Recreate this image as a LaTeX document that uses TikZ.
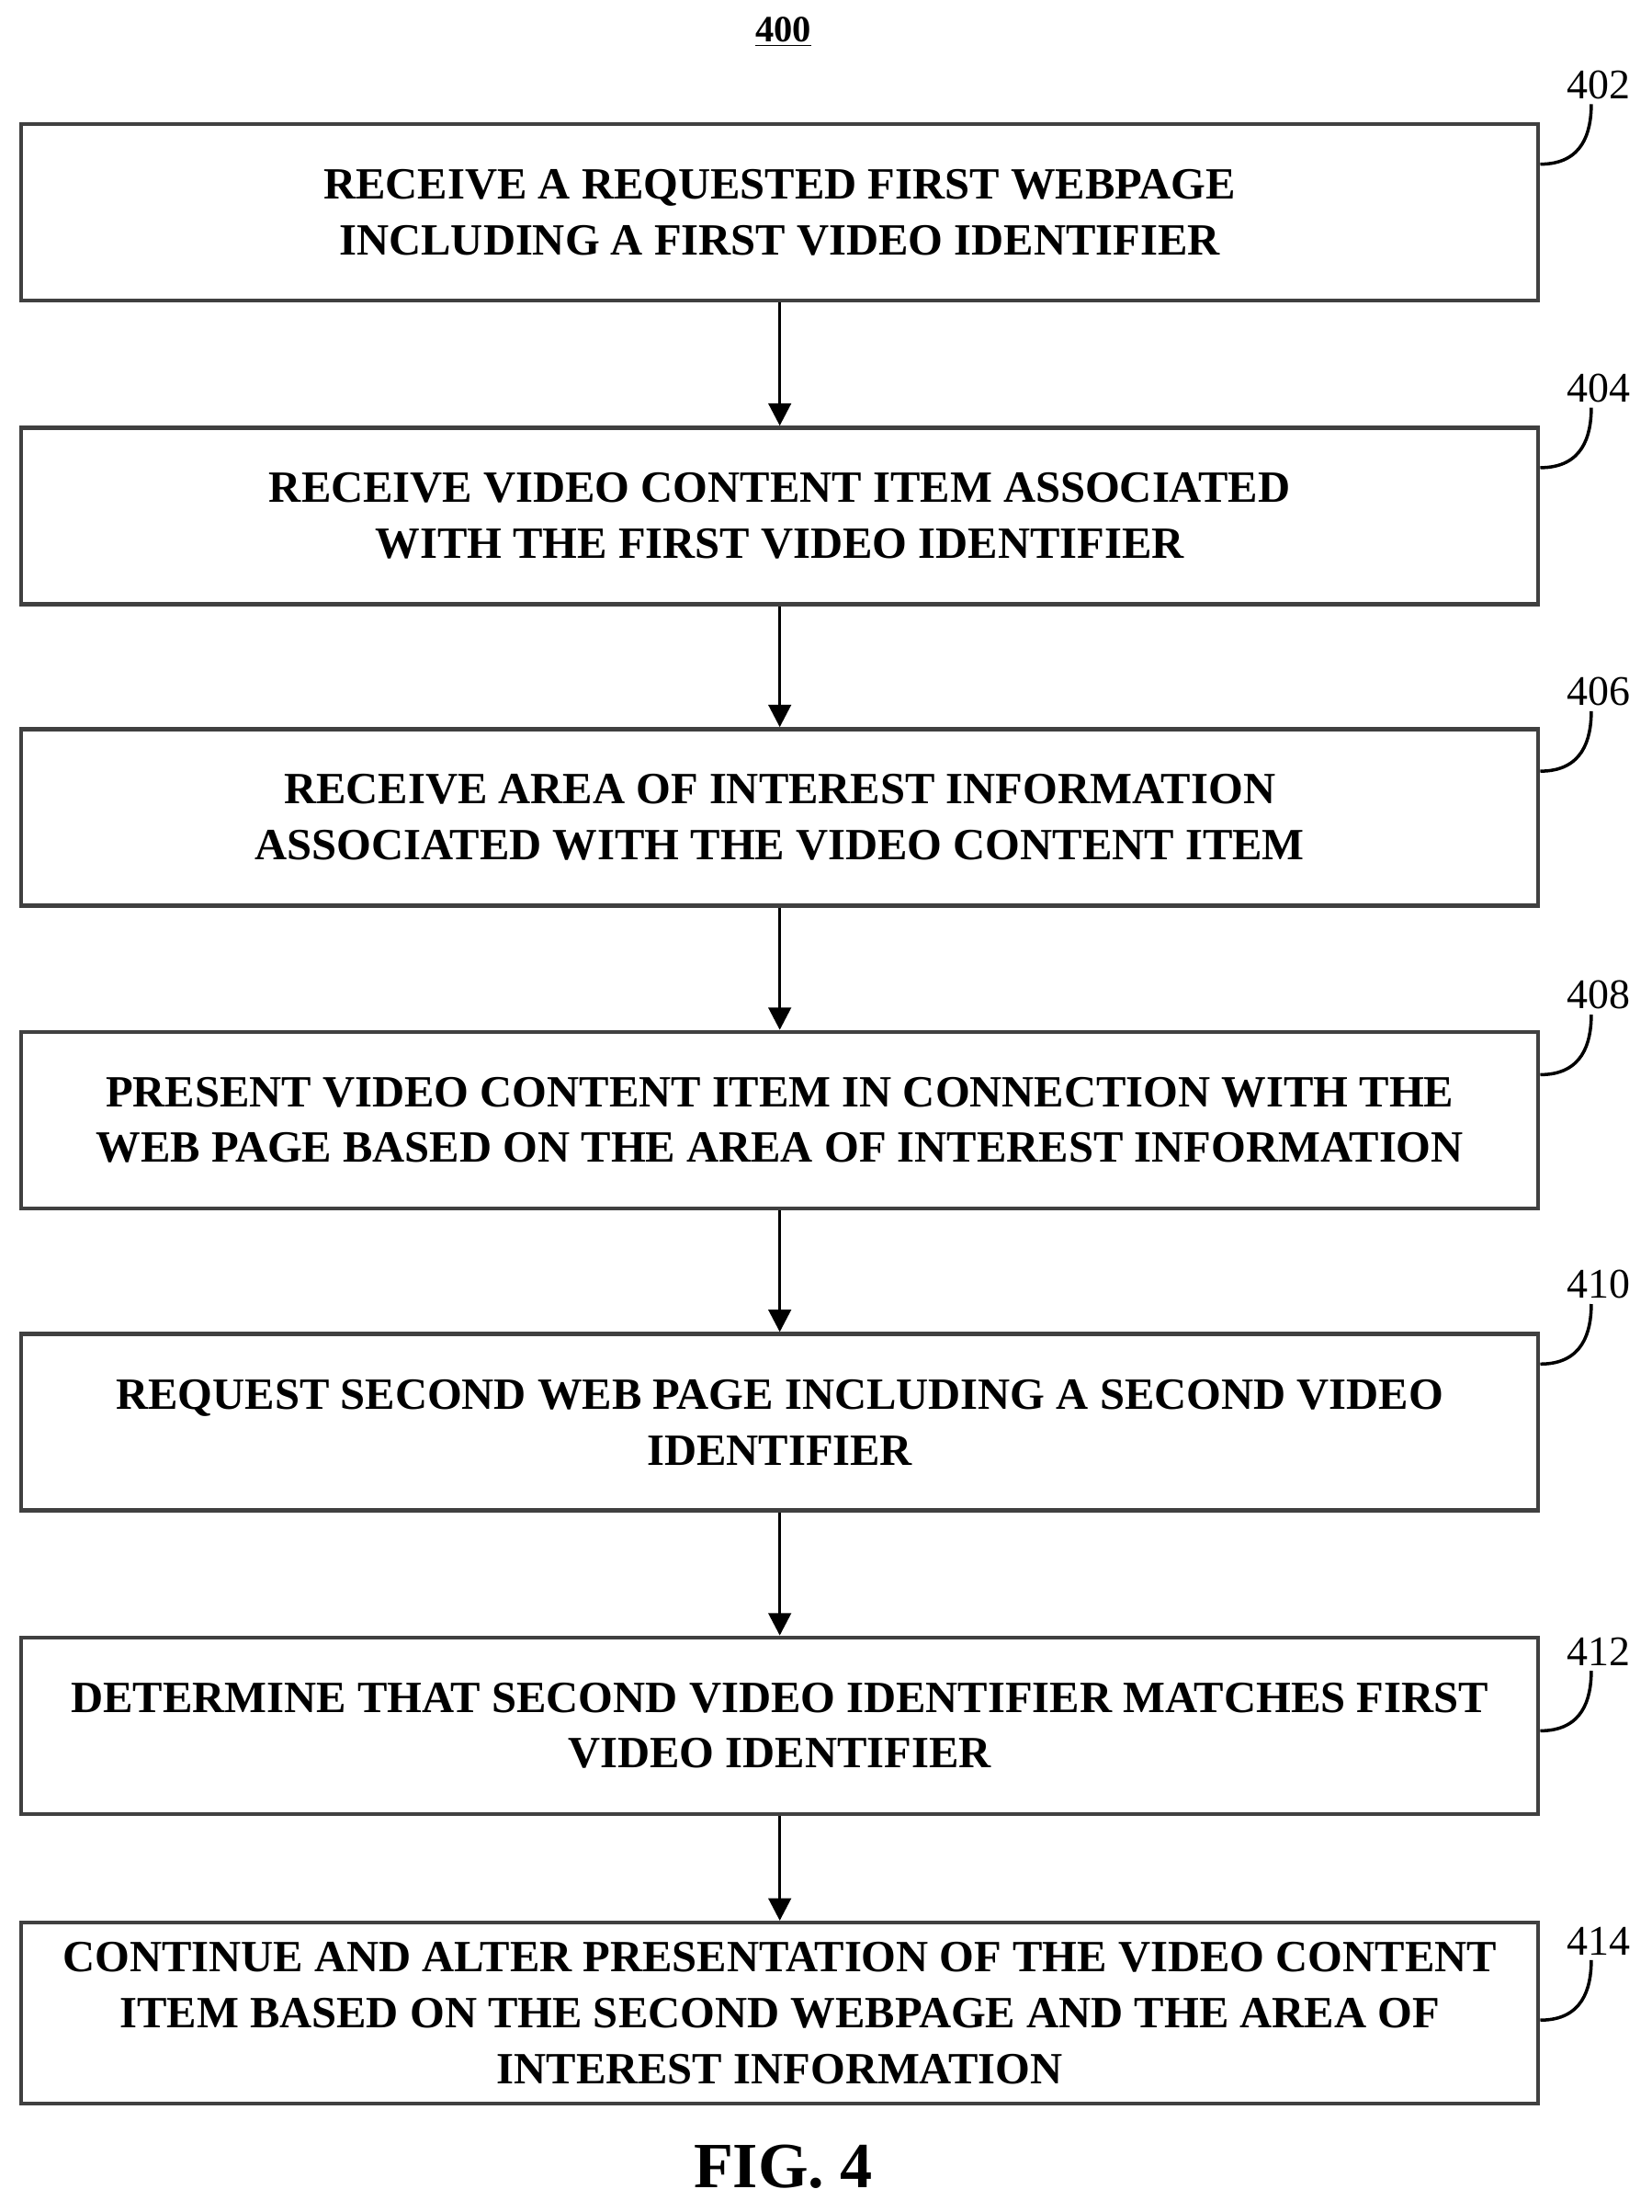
\documentclass[tikz,border=0pt]{standalone}
\usepackage{fontspec}
\setmainfont{Liberation Serif}
\usetikzlibrary{positioning,arrows.meta}
\tikzset{
  stepbox/.style={draw=black!75, line width=1.6pt, minimum width=21.5cm, minimum height=2.5cm,
    align=center, font=\bfseries\fontsize{18}{22.5}\selectfont, inner sep=2pt},
  ref/.style={font=\fontsize{17}{20}\selectfont},
  flow/.style={-{Triangle[length=9pt,width=9pt]}, line width=1.3pt},
  hook/.style={line width=1.3pt}
}
\begin{document}
\begin{tikzpicture}
\useasboundingbox (0,0) rectangle (23.4,-31.34);

\node at (11.1,-0.45) {\bfseries\fontsize{15}{18}\selectfont\underline{400}};

\node[stepbox] (s402) at (11.05,-3.01) {RECEIVE A REQUESTED FIRST WEBPAGE\\INCLUDING A FIRST VIDEO IDENTIFIER};
\node[stepbox] (s404) at (11.05,-7.31) {RECEIVE VIDEO CONTENT ITEM ASSOCIATED\\WITH THE FIRST VIDEO IDENTIFIER};
\node[stepbox] (s406) at (11.05,-11.58) {RECEIVE AREA OF INTEREST INFORMATION\\ASSOCIATED WITH THE VIDEO CONTENT ITEM};
\node[stepbox] (s408) at (11.05,-15.87) {PRESENT VIDEO CONTENT ITEM IN CONNECTION WITH THE\\WEB PAGE BASED ON THE AREA OF INTEREST INFORMATION};
\node[stepbox] (s410) at (11.05,-20.15) {REQUEST SECOND WEB PAGE INCLUDING A SECOND VIDEO\\IDENTIFIER};
\node[stepbox] (s412) at (11.05,-24.45) {DETERMINE THAT SECOND VIDEO IDENTIFIER MATCHES FIRST\\VIDEO IDENTIFIER};
\node[stepbox, minimum height=2.56cm] (s414) at (11.05,-28.52) {CONTINUE AND ALTER PRESENTATION OF THE VIDEO CONTENT\\ITEM BASED ON THE SECOND WEBPAGE AND THE AREA OF\\INTEREST INFORMATION};

%arrows
\draw[flow] (s402) -- (s404);
\draw[flow] (s404) -- (s406);
\draw[flow] (s406) -- (s408);
\draw[flow] (s408) -- (s410);
\draw[flow] (s410) -- (s412);
\draw[flow] (s412) -- (s414);

%reference numbers
\foreach \s/\y in {402/-1.2, 404/-5.5, 406/-9.8, 408/-14.1, 410/-18.2, 412/-23.4, 414/-27.5}{
  \node[ref] (r\s) at (22.65,\y) {\s};
  \draw[hook] ([yshift=-0.8cm]s\s.east |- r\s.south) .. controls +(0.6,0) and +(0,-0.4) .. ([xshift=-0.1cm,yshift=0.05cm]r\s.south);
}

\node at (11.1,-30.7) {\bfseries\fontsize{26}{30}\selectfont FIG. 4};
\end{tikzpicture}
\end{document}
